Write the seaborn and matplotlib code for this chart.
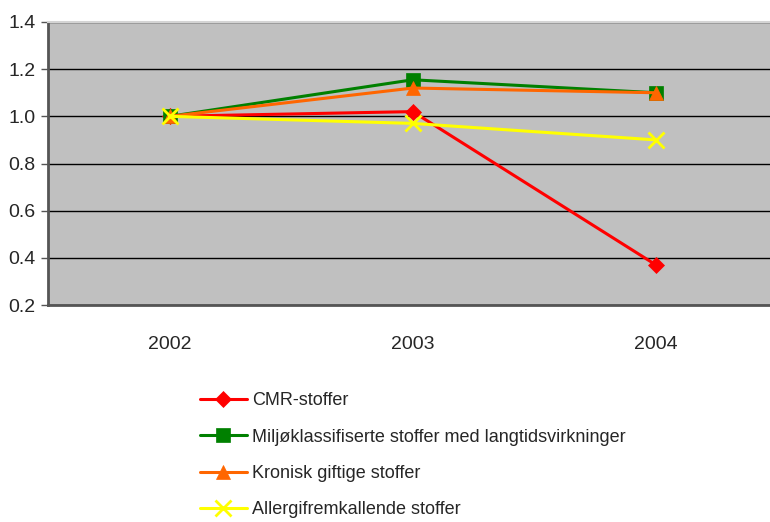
import matplotlib
matplotlib.use("Agg")
import matplotlib.pyplot as plt
import seaborn as sns
import pandas as pd

years = [2002, 2003, 2004]
series_names = [
    "CMR-stoffer",
    "Miljøklassifiserte stoffer med langtidsvirkninger",
    "Kronisk giftige stoffer",
    "Allergifremkallende stoffer",
]
cmr = [1.00, 1.02, 0.37]
miljo = [1.00, 1.155, 1.10]
kronisk = [1.00, 1.12, 1.10]
allergi = [1.00, 0.97, 0.90]
y_ticks = [0.2, 0.4, 0.6, 0.8, 1.0, 1.2, 1.4]

colors = ["#FF0000", "#008000", "#FF6600", "#FFFF00"]
markers = ["D", "s", "^", "X"]
final_markers = ["D", "s", "^", "x"]
msizes = [8.5, 10, 10, 11]

rows = []
for name, vals in zip(series_names, [cmr, miljo, kronisk, allergi]):
    for yr, v in zip(years, vals):
        rows.append({"year": yr, "value": v, "series": name})
df = pd.DataFrame(rows)

sns.set_style("white")
plt.rcParams["font.family"] = ["Liberation Sans", "DejaVu Sans"]

fig = plt.figure(figsize=(7.7, 5.22), dpi=100)
ax = fig.add_axes([48 / 770, 1 - 305 / 522, (777.5 - 48) / 770, (305 - 22) / 522])
ax.set_facecolor("#C0C0C0")

sns.lineplot(
    data=df, x="year", y="value", hue="series", style="series",
    hue_order=series_names, style_order=series_names,
    palette=colors, markers=markers, dashes=False, legend=False,
    linewidth=2.2, ax=ax,
)

handles = []
for line, c, ms, mk in zip(ax.lines, colors, msizes, final_markers):
    line.set_marker(mk)
    line.set_markeredgecolor(c)
    line.set_markerfacecolor(c)
    line.set_markersize(ms)
    line.set_markeredgewidth(2 if mk == "x" else 0.5)
    line.set_solid_joinstyle("round")
    handles.append(line)

ax.set_xlim(2001.5, 2004.5)
ax.set_ylim(0.2, 1.4)
ax.set_xticks(years)
ax.set_xticklabels([str(y) for y in years])
ax.set_yticks(y_ticks)
ax.set_yticklabels([f"{t:.1f}" for t in y_ticks])
ax.yaxis.grid(True, color="black", linewidth=1.0)
ax.set_axisbelow(True)
ax.set_xlabel("")
ax.set_ylabel("")

ax.tick_params(axis="y", which="both", left=True, length=5, width=1,
               color="#555555", labelsize=14, pad=4)
ax.tick_params(axis="x", which="both", bottom=False, labelsize=14, pad=19)

for side in ["left", "bottom"]:
    ax.spines[side].set_color("#555555")
    ax.spines[side].set_linewidth(2)
ax.spines["top"].set_color("#D4D4D4")
ax.spines["top"].set_linewidth(1.5)
ax.spines["right"].set_visible(False)

fig.legend(
    handles, series_names, loc="upper left",
    bbox_to_anchor=(200 / 770, 1 - 392 / 522),
    frameon=False, fontsize=13, handlelength=2.6, handletextpad=0.3,
    labelspacing=1.08, borderaxespad=0, borderpad=0,
)

fig.savefig("out.png", dpi=100)
